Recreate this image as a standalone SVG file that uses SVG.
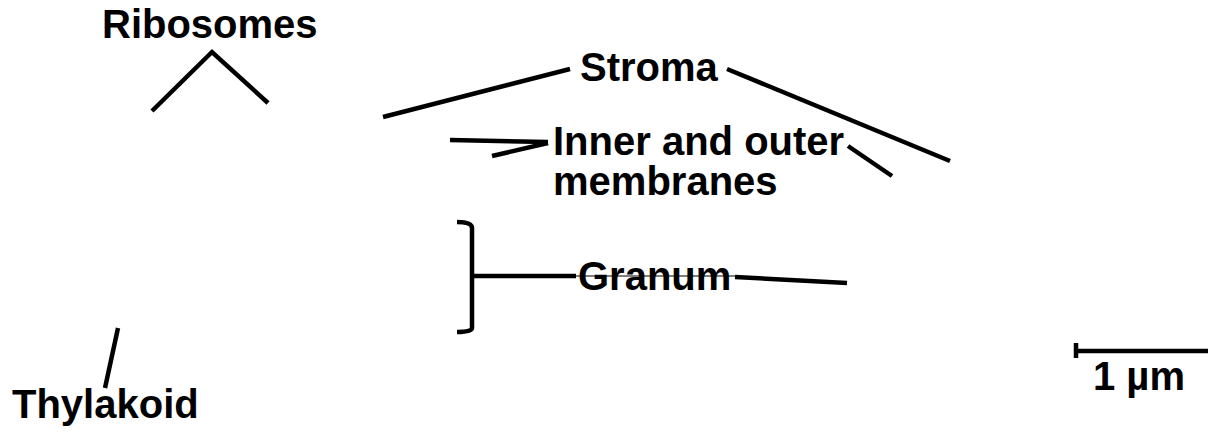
<svg xmlns="http://www.w3.org/2000/svg" width="1209" height="434" viewBox="0 0 1209 434">
<style>
.t{font-family:"Liberation Sans",Arial,sans-serif;font-weight:bold;font-size:40px;fill:#000}
.c line,.c polyline,.c path{stroke:#000;stroke-width:4.5;fill:none}
</style>
<rect width="1209" height="434" fill="#fff"/>
<g class="c" id="connectors">
<polyline points="152,111 212,52 268,103"/>
<line x1="383" y1="117" x2="570" y2="69"/>
<line x1="727" y1="69" x2="950" y2="161"/>
<line x1="450" y1="140" x2="548" y2="142"/>
<line x1="492" y1="156" x2="548" y2="143"/>
<line x1="848" y1="146" x2="892" y2="176"/>
<path d="M457,222 Q472,222 472,228 L472,328 Q472,332 457,332"/>
<line x1="472" y1="276" x2="576" y2="276"/>
<line x1="576" y1="276" x2="735" y2="276" style="stroke-width:1.2"/>
<line x1="735" y1="277" x2="847" y2="283"/>
<line x1="118" y1="328" x2="105" y2="388"/>
<line x1="1075" y1="351" x2="1208" y2="351"/>
<line x1="1076" y1="343" x2="1076" y2="358"/>
</g>
<g id="ribosomes"><text class="t" x="102" y="38">Ribosomes</text></g>
<g id="stroma"><text class="t" x="580" y="81">Stroma</text></g>
<g id="membranes"><text class="t"><tspan x="553" y="155">Inner and outer</tspan><tspan x="553" y="195">membranes</tspan></text></g>
<g id="granum"><text class="t" x="578" y="290">Granum</text></g>
<g id="thylakoid"><text class="t" x="12" y="418">Thylakoid</text></g>
<g id="scale"><text class="t" x="1093" y="390">1 µm</text></g>
</svg>
